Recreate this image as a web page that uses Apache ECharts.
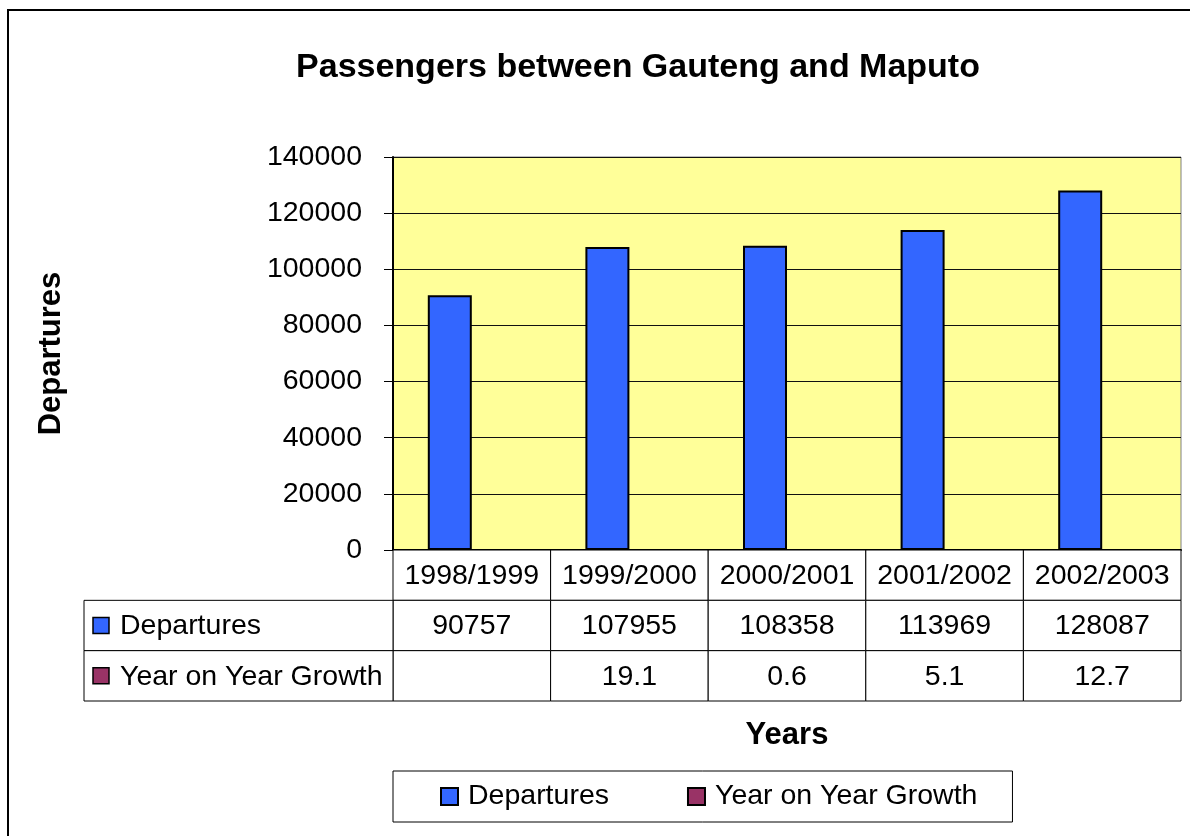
<!DOCTYPE html>
<html>
<head>
<meta charset="utf-8">
<script src="https://cdn.jsdelivr.net/npm/echarts@6/dist/echarts.min.js"></script>
<style>html,body{margin:0;padding:0;background:#fff;}#c{width:1190px;height:836px;}</style>
</head>
<body>
<div id="c"></div>
<script>
const categories = ['1998/1999', '1999/2000', '2000/2001', '2001/2002', '2002/2003'];
const departures = [90757, 107955, 108358, 113969, 128087];
const growth = [null, 19.1, 0.6, 5.1, 12.7];
const seriesNames = ['Departures', 'Year on Year Growth'];
const seriesColors = ['#3366FF', '#993366'];
const yMin = 0, yMax = 140000, yStep = 20000;

const FONT = "'Liberation Sans', Arial, sans-serif";
const FS = 28.5;

// table cells built from the arrays
const tableCells = [];
categories.forEach((c, i) => tableCells.push({ value: [i, 0], text: c }));
departures.forEach((v, i) => tableCells.push({ value: [i, 1], text: String(v) }));
growth.forEach((v, i) => tableCells.push({ value: [i, 2], text: v == null ? '' : v.toFixed(1) }));

const chart = echarts.init(document.getElementById('c'));

function renderCell(params, api) {
  const cell = tableCells[params.dataIndex];
  const c = api.value(0), r = api.value(1);
  const p = api.coord([c, r]);
  const s = api.size([1, 1]);
  const x = p[0] - s[0] / 2, y = p[1] - s[1] / 2;
  const children = [
    { type: 'rect', shape: { x: x, y: y, width: s[0], height: s[1] },
      style: { fill: '#fff', stroke: '#000', lineWidth: 1 } },
    { type: 'text', style: { text: cell.text, x: p[0], y: p[1] + 1, align: 'center', verticalAlign: 'middle',
      font: FS + 'px ' + FONT, fill: '#000' } }
  ];
  if (c === 0 && r > 0) {
    const hx = 84;
    children.push(
      { type: 'rect', shape: { x: hx, y: y, width: x - hx, height: s[1] },
        style: { fill: '#fff', stroke: '#000', lineWidth: 1 } },
      { type: 'rect', shape: { x: 93, y: p[1] - 8, width: 16, height: 16 },
        style: { fill: seriesColors[r - 1], stroke: '#000', lineWidth: 1.5 } },
      { type: 'text', style: { text: seriesNames[r - 1], x: 120, y: p[1] + 1, align: 'left', verticalAlign: 'middle',
        font: FS + 'px ' + FONT, fill: '#000' } }
    );
  }
  return { type: 'group', children: children };
}

chart.setOption({
  backgroundColor: '#fff',
  animation: false,
  title: {
    text: 'Passengers between Gauteng and Maputo',
    left: 633, top: 46, textAlign: 'center',
    textStyle: { fontFamily: FONT, fontSize: 34, fontWeight: 'bold', color: '#000' }
  },
  legend: {
    data: seriesNames,
    left: 393, top: 771,
    padding: [11, 35, 11, 47],
    itemWidth: 17, itemHeight: 17, itemGap: 78,
    borderColor: '#000', borderWidth: 1,
    icon: 'rect',
    textStyle: { fontFamily: FONT, fontSize: FS, color: '#000', padding: [0, 0, 0, 5] }
  },
  graphic: [
    { type: 'rect', shape: { x: 8, y: 10, width: 1400, height: 1000 },
      style: { fill: 'none', stroke: '#000', lineWidth: 2 }, silent: true, z: 100 }
  ],
  grid: [
    { left: 393, right: 9, top: 157, bottom: 286, show: true, backgroundColor: '#FFFF99',
      borderColor: '#808080', borderWidth: 1 },
    { left: 393, right: 9, top: 550, height: 151 }
  ],
  xAxis: [
    { type: 'category', data: categories, gridIndex: 0,
      axisLine: { show: true, lineStyle: { color: '#000', width: 2 } },
      axisTick: { show: false }, axisLabel: { show: false },
      name: 'Years', nameLocation: 'middle', nameGap: 170,
      nameTextStyle: { fontFamily: FONT, fontSize: 31, fontWeight: 'bold', color: '#000' } },
    { type: 'category', data: categories, gridIndex: 1, show: false }
  ],
  yAxis: [
    { type: 'value', gridIndex: 0, min: yMin, max: yMax, interval: yStep,
      axisLine: { show: true, lineStyle: { color: '#000', width: 2 } },
      axisTick: { show: true, length: 9, lineStyle: { color: '#000', width: 1 } },
      axisLabel: { margin: 31, fontFamily: FONT, fontSize: FS, color: '#000', formatter: v => String(v) },
      splitLine: { show: true, lineStyle: { color: '#111', width: 1 } },
      name: 'Departures', nameLocation: 'middle', nameRotate: 90, nameGap: 326,
      nameTextStyle: { fontFamily: FONT, fontSize: 31, fontWeight: 'bold', color: '#000' } },
    { type: 'category', gridIndex: 1, data: ['header', 'Departures', 'Year on Year Growth'],
      inverse: true, show: false }
  ],
  series: [
    { name: seriesNames[0], type: 'bar', data: departures, xAxisIndex: 0, yAxisIndex: 0,
      barWidth: 44, barGap: '0%',
      itemStyle: { color: seriesColors[0], borderColor: '#000', borderWidth: 2 } },
    { name: seriesNames[1], type: 'bar', data: growth, xAxisIndex: 0, yAxisIndex: 0,
      barWidth: 44, barGap: '0%',
      itemStyle: { color: seriesColors[1], borderColor: '#000', borderWidth: 2 } },
    { name: 'table', type: 'custom', xAxisIndex: 1, yAxisIndex: 1, clip: false,
      data: tableCells.map(d => d.value), renderItem: renderCell, silent: true, z: 3 }
  ]
});
</script>
</body>
</html>
